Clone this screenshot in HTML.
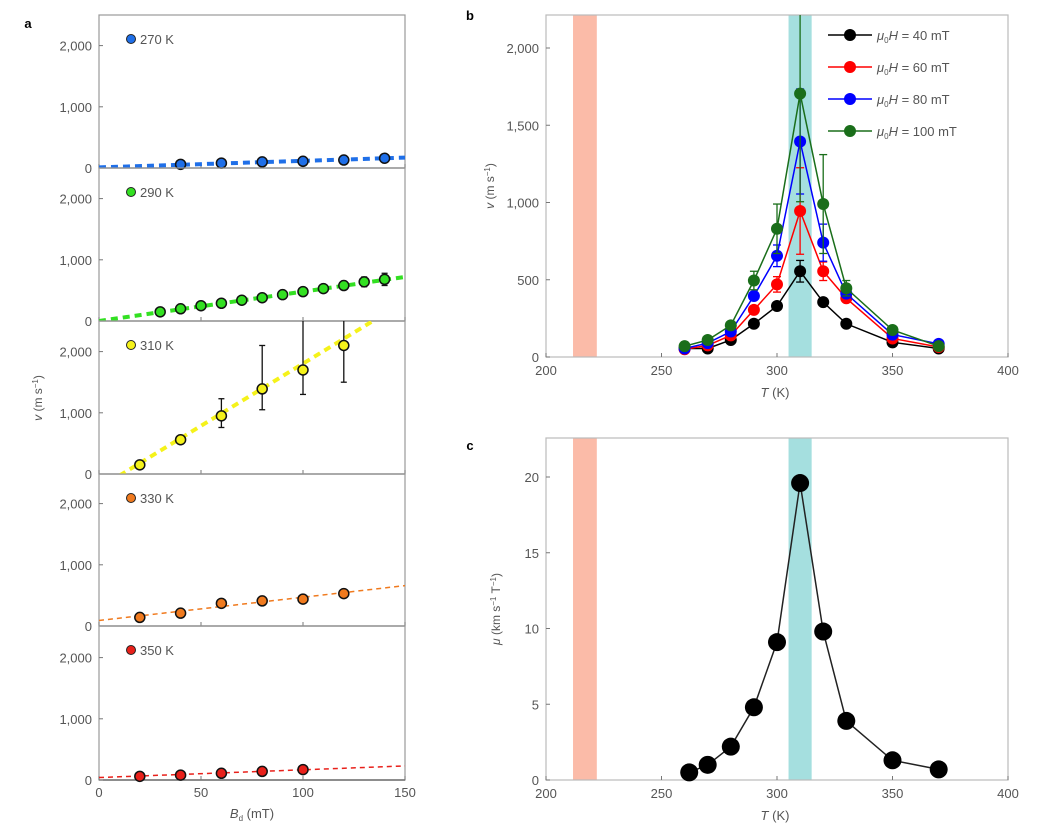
<!DOCTYPE html>
<html><head><meta charset="utf-8"><style>
body{margin:0;background:#fff;}
svg text{font-family:"Liberation Sans",sans-serif;fill:#555;}
</style></head><body>
<svg id="fig" width="1050" height="828" xmlns="http://www.w3.org/2000/svg"></svg>
<script>
// Panel a data
const aTemps = ['270 K','290 K','310 K','330 K','350 K'];
const aColors = ['#1f6fe8','#33e022','#f5f21a','#f07a1e','#e8201a'];
const aX270 = [40,60,80,100,120,140];
const aV270 = [60,80,100,110,130,160];
const aX290 = [30,40,50,60,70,80,90,100,110,120,130,140];
const aV290 = [150,200,250,290,340,380,430,480,530,580,640,680];
const aE290 = [20,20,20,20,20,20,20,30,30,60,80,100];
const aX310 = [20,40,60,80,100,120];
const aV310 = [150,560,950,1390,1700,2100];
const aEUp310 = [60,40,280,710,900,700];
const aELo310 = [60,40,190,340,400,600];
const aX330 = [20,40,60,80,100,120];
const aV330 = [140,210,370,410,440,530];
const aX350 = [20,40,60,80,100];
const aV350 = [60,80,110,140,170];
const aFitStart = [10,0,-230,90,40];
const aFitEnd = [170,720,2820,660,230];
const aYTicks = [0,1000,2000];
const aYLabels = ['0','1,000','2,000'];
const aXTicks = [0,50,100,150];
// Panel b data
const bT = [260,270,280,290,300,310,320,330,350,370];
const b40 = [55,55,110,215,330,555,355,215,95,55];
const b60 = [50,75,140,305,470,945,555,380,120,65];
const b80 = [55,90,165,395,655,1395,740,410,145,85];
const b100 = [70,110,205,495,830,1705,990,445,175,70];
const bErr80 = [0,0,0,0,70,340,120,0,0,0];
const bErr60 = [0,0,0,0,50,280,60,0,0,0];
const bErr100 = [0,0,0,60,160,700,320,50,0,0];
const bErr40 = [0,0,0,0,0,70,0,0,0,0];
const bLabels = ['40','60','80','100'];
const bYTicks = [0,500,1000,1500,2000];
const bYLabels = ['0','500','1,000','1,500','2,000'];
const tTicks = [200,250,300,350,400];
// Panel c data
const cT = [262,270,280,290,300,310,320,330,350,370];
const cMu = [0.5,1.0,2.2,4.8,9.1,19.6,9.8,3.9,1.3,0.7];
const cYTicks = [0,5,10,15,20];

const NS='http://www.w3.org/2000/svg';
const svg=document.getElementById('fig');
function mk(tag,attrs,parent){const e=document.createElementNS(NS,tag);for(const k in attrs)e.setAttribute(k,attrs[k]);(parent||svg).appendChild(e);return e;}
function txt(x,y,s,anchor,size,parent){const t=mk('text',{x:x,y:y,'text-anchor':anchor||'middle','font-size':size||13},parent);t.textContent=s;return t;}

// Panel a
const ax=v=>99+v/150*306;
const aBottoms=[168,321,474,626,780];
const aTop=[15,168,321,474,626];
const aXs=[aX270,aX290,aX310,aX330,aX350];
const aVs=[aV270,aV290,aV310,aV330,aV350];
const aEUps=[null,aE290,aEUp310,null,null];
const aELos=[null,aE290,aELo310,null,null];
const pa=mk('g',{});


const la=txt(28,28,'a','middle',13,pa);la.setAttribute('font-weight','bold');la.setAttribute('style','fill:#000');
for(let p=0;p<5;p++){
  const g=mk('g',{},pa);
  
  
  const b=aBottoms[p];
  const ay=v=>b-v*0.0612;
  const clipId='clip'+p;
  const cp=mk('clipPath',{id:clipId},g);mk('rect',{x:99,y:aTop[p],width:306,height:b-aTop[p]},cp);
  mk('rect',{x:99,y:aTop[p],width:306,height:b-aTop[p],fill:'none',stroke:'#999','stroke-width':1.2},g);
  mk('line',{x1:99,y1:b,x2:405,y2:b,stroke:'#555','stroke-width':1.2},g);
  aYTicks.forEach((t,i)=>{const l=txt(92,ay(t)+5,aYLabels[i],'end',13,g);mk('line',{x1:99,y1:ay(t),x2:103,y2:ay(t),stroke:'#777'},g);});
  aXTicks.forEach(t=>mk('line',{x1:ax(t),y1:b,x2:ax(t),y2:b-4,stroke:'#777'},g));
  const dash=p<3?{w:4,d:'7 5'}:{w:1.5,d:'5 4'};
  const fit=mk('line',{x1:ax(0),y1:ay(aFitStart[p]),x2:ax(150),y2:ay(aFitEnd[p]),stroke:aColors[p],'stroke-width':dash.w,'stroke-dasharray':dash.d,'clip-path':'url(#'+clipId+')'},g);
  
  aXs[p].forEach((x,i)=>{
    const v=aVs[p][i];
    const eu=aEUps[p]?aEUps[p][i]:20, el=aELos[p]?aELos[p][i]:20;
    const eb=mk('line',{x1:ax(x),y1:ay(v+eu),x2:ax(x),y2:ay(Math.max(v-el,0)),stroke:'#111','stroke-width':1.3,'clip-path':'url(#'+clipId+')'},g);
    
    if(eu>50){[v+eu,v-el].forEach(q=>{if(q<2480)mk('line',{x1:ax(x)-3,y1:ay(q),x2:ax(x)+3,y2:ay(q),stroke:'#111','stroke-width':1.3},g);});}
    const c=mk('circle',{cx:ax(x),cy:ay(v),r:5,fill:aColors[p],stroke:'#111','stroke-width':1.5},g);
    
    
  });
  const lg=mk('circle',{cx:131,cy:aTop[p]+24,r:4.5,fill:aColors[p],stroke:'#222','stroke-width':1},g);
  
  const lt=txt(140,aTop[p]+29,aTemps[p],'start',13,g);
  
}
aXTicks.forEach(t=>{const l=txt(ax(t),797,String(t),'middle',13,pa);});
const axl=txt(252,818,'','middle',13,pa);axl.innerHTML='<tspan font-style="italic">B</tspan><tspan font-size="8" dy="3">d</tspan><tspan dy="-3"> (mT)</tspan>';

const ayl=txt(0,0,'','middle',12,pa);ayl.setAttribute('transform','translate(42,398) rotate(-90)');ayl.innerHTML='<tspan font-style="italic">v</tspan> (m s<tspan font-size="8" dy="-4">−1</tspan><tspan dy="4">)</tspan>';


// Panel b/c x axis
const tx=v=>546+(v-200)/200*462;
function bands(g,top,bot){
  const o=mk('rect',{x:tx(211.7),y:top,width:tx(222)-tx(211.7),height:bot-top,fill:'#fbbba8'},g);
  const t=mk('rect',{x:tx(305),y:top,width:tx(315)-tx(305),height:bot-top,fill:'#a5dfdf'},g);
}
// Panel b
const pb=mk('g',{});


const lb=txt(470,20,'b','middle',13,pb);lb.setAttribute('font-weight','bold');lb.setAttribute('style','fill:#000');
const by=v=>357-v*0.1545;
bands(pb,15,357);
mk('rect',{x:546,y:15,width:462,height:342,fill:'none',stroke:'#bbb','stroke-width':1.2},pb);
bYTicks.forEach((t,i)=>{txt(539,by(t)+5,bYLabels[i],'end',13,pb);mk('line',{x1:546,y1:by(t),x2:550,y2:by(t),stroke:'#777'},pb);});
tTicks.forEach(t=>{txt(tx(t),375,String(t),'middle',13,pb);mk('line',{x1:tx(t),y1:357,x2:tx(t),y2:353,stroke:'#777'},pb);});
const bxl=txt(775,397,'','middle',13,pb);bxl.innerHTML='<tspan font-style="italic">T</tspan> (K)';
const byl=txt(0,0,'','middle',12,pb);byl.setAttribute('transform','translate(494,186) rotate(-90)');byl.innerHTML='<tspan font-style="italic">v</tspan> (m s<tspan font-size="8" dy="-4">−1</tspan><tspan dy="4">)</tspan>';
const cpb=mk('clipPath',{id:'clipb'},pb);mk('rect',{x:546,y:15,width:462,height:342},cpb);
const bSeries=[b40,b60,b80,b100], bErrs=[bErr40,bErr60,bErr80,bErr100], bCols=['#000','#f00','#00f','#1a6e1a'];
bSeries.forEach((s,k)=>{
  const g=mk('g',{'clip-path':'url(#clipb)'},pb);
  
  
  const pl=mk('polyline',{points:bT.map((t,i)=>tx(t)+','+by(s[i])).join(' '),fill:'none',stroke:bCols[k],'stroke-width':1.5},g);
  
  bT.forEach((t,i)=>{const e=bErrs[k][i];if(e>0){mk('line',{x1:tx(t),y1:by(s[i]+e),x2:tx(t),y2:by(s[i]-e),stroke:bCols[k],'stroke-width':1.3},g);[s[i]+e,s[i]-e].forEach(q=>mk('line',{x1:tx(t)-4,y1:by(q),x2:tx(t)+4,y2:by(q),stroke:bCols[k],'stroke-width':1.3},g));}});
  bT.forEach((t,i)=>{const c=mk('circle',{cx:tx(t),cy:by(s[i]),r:6,fill:bCols[k]},g);});
  const ly=35+k*32;
  const lg=mk('g',{},pb);
  
  
  mk('line',{x1:828,y1:ly,x2:872,y2:ly,stroke:bCols[k],'stroke-width':1.5},lg);
  mk('circle',{cx:850,cy:ly,r:6,fill:bCols[k]},lg);
  const t=txt(877,ly+5,'','start',13,lg);t.innerHTML='<tspan font-style="italic">μ</tspan><tspan font-size="8" dy="3">0</tspan><tspan dy="-3" font-style="italic">H</tspan> = '+bLabels[k]+' mT';
});

// Panel c
const pc=mk('g',{});


const lc=txt(470,450,'c','middle',13,pc);lc.setAttribute('font-weight','bold');lc.setAttribute('style','fill:#000');
const cy=v=>780-v*15.15;
bands(pc,438,780);
mk('rect',{x:546,y:438,width:462,height:342,fill:'none',stroke:'#bbb','stroke-width':1.2},pc);
cYTicks.forEach(t=>{txt(539,cy(t)+5,String(t),'end',13,pc);mk('line',{x1:546,y1:cy(t),x2:550,y2:cy(t),stroke:'#777'},pc);});
tTicks.forEach(t=>{txt(tx(t),798,String(t),'middle',13,pc);mk('line',{x1:tx(t),y1:780,x2:tx(t),y2:776,stroke:'#777'},pc);});
const cxl=txt(775,820,'','middle',13,pc);cxl.innerHTML='<tspan font-style="italic">T</tspan> (K)';
const cyl=txt(0,0,'','middle',12,pc);cyl.setAttribute('transform','translate(500,609) rotate(-90)');cyl.innerHTML='<tspan font-style="italic">μ</tspan> (km s<tspan font-size="8" dy="-4">−1</tspan><tspan dy="4"> T</tspan><tspan font-size="8" dy="-4">−1</tspan><tspan dy="4">)</tspan>';
const cl=mk('polyline',{points:cT.map((t,i)=>tx(t)+','+cy(cMu[i])).join(' '),fill:'none',stroke:'#222','stroke-width':1.5},pc);

cT.forEach((t,i)=>{const c=mk('circle',{cx:tx(t),cy:cy(cMu[i]),r:9,fill:'#000'},pc);});
</script>
</body></html>
